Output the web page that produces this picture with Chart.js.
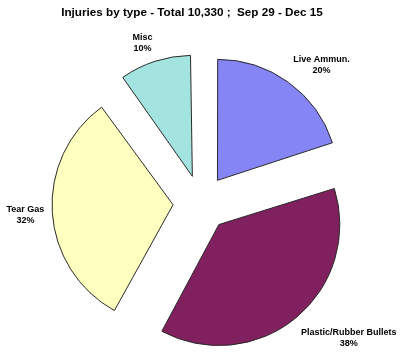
<!DOCTYPE html>
<html>
<head>
<meta charset="utf-8">
<script src="https://cdn.jsdelivr.net/npm/chart.js@4.4.0/dist/chart.umd.min.js"></script>
<style>
  html, body { margin: 0; padding: 0; background: #fff; }
  #wrap { width: 400px; height: 358px; }
</style>
</head>
<body>
<div id="wrap"><canvas id="pie"></canvas></div>
<script>
const title = "Injuries by type - Total 10,330 ;  Sep 29 - Dec 15";
const labels = ["Live Ammun.", "Plastic/Rubber Bullets", "Tear Gas", "Misc"];
const percents = [20, 38, 32, 10];
const colors = ["#8585f5", "#80205f", "#ffffc0", "#a3e3e0"];

const RADIUS = 121;
const EXPLODE = 28; // px each slice is pulled out

// chart.js moves an arc by offset/4 and also grows its radius a bit;
// undo the growth so all slices keep the same radius
const keepRadius = {
  id: "keepRadius",
  beforeDatasetsDraw(chart) {
    chart.getDatasetMeta(0).data.forEach(arc => {
      const circ = arc.endAngle - arc.startAngle;
      const fix = 1 - Math.sin(Math.min(Math.PI, circ));
      arc.outerRadius = RADIUS - EXPLODE * fix;
    });
  }
};

// outside labels, corner of the text box placed just past the arc
const outsideLabels = {
  id: "outsideLabels",
  afterDatasetsDraw(chart) {
    const ctx = chart.ctx;
    const meta = chart.getDatasetMeta(0);
    ctx.save();
    ctx.font = "bold 9px 'Liberation Sans', Arial, sans-serif";
    ctx.fillStyle = "#000";
    ctx.textAlign = "center";
    ctx.textBaseline = "middle";
    meta.data.forEach((arc, i) => {
      const mid = (arc.startAngle + arc.endAngle) / 2;
      const c = Math.cos(mid), s = Math.sin(mid);
      const vx = arc.x + c * EXPLODE, vy = arc.y + s * EXPLODE;
      const d = RADIUS + 8;
      const px = vx + c * d, py = vy + s * d;
      const lines = [labels[i], percents[i] + "%"];
      const hw = Math.max(...lines.map(t => ctx.measureText(t).width)) / 2;
      const hh = 11;
      const clamp = v => Math.max(-1, Math.min(1, v / 0.3));
      const cx = px + hw * clamp(c);
      const cy = py + hh * clamp(s) + (s > 0.5 ? 3 : 0);
      ctx.fillText(lines[0], cx, cy - 5.5);
      ctx.fillText(lines[1], cx, cy + 5.5);
    });
    // chart title, sits a little left of the canvas middle
    ctx.font = "bold 11.7px 'Liberation Sans', Arial, sans-serif";
    ctx.fillText(title, 192, 13);
    ctx.restore();
  }
};

new Chart(document.getElementById("pie"), {
  type: "pie",
  data: {
    labels: labels,
    datasets: [{
      data: percents,
      backgroundColor: colors,
      borderColor: "#2a2a2a",
      borderWidth: 1,
      offset: EXPLODE * 4,
      clip: false
    }]
  },
  options: {
    responsive: true,
    maintainAspectRatio: false,
    animation: false,
    radius: RADIUS,
    layout: { padding: { left: 2, right: 0, top: 48, bottom: 0 } },
    plugins: {
      legend: { display: false },
      tooltip: { enabled: false },
      title: { display: false }
    }
  },
  plugins: [keepRadius, outsideLabels]
});
</script>
</body>
</html>
